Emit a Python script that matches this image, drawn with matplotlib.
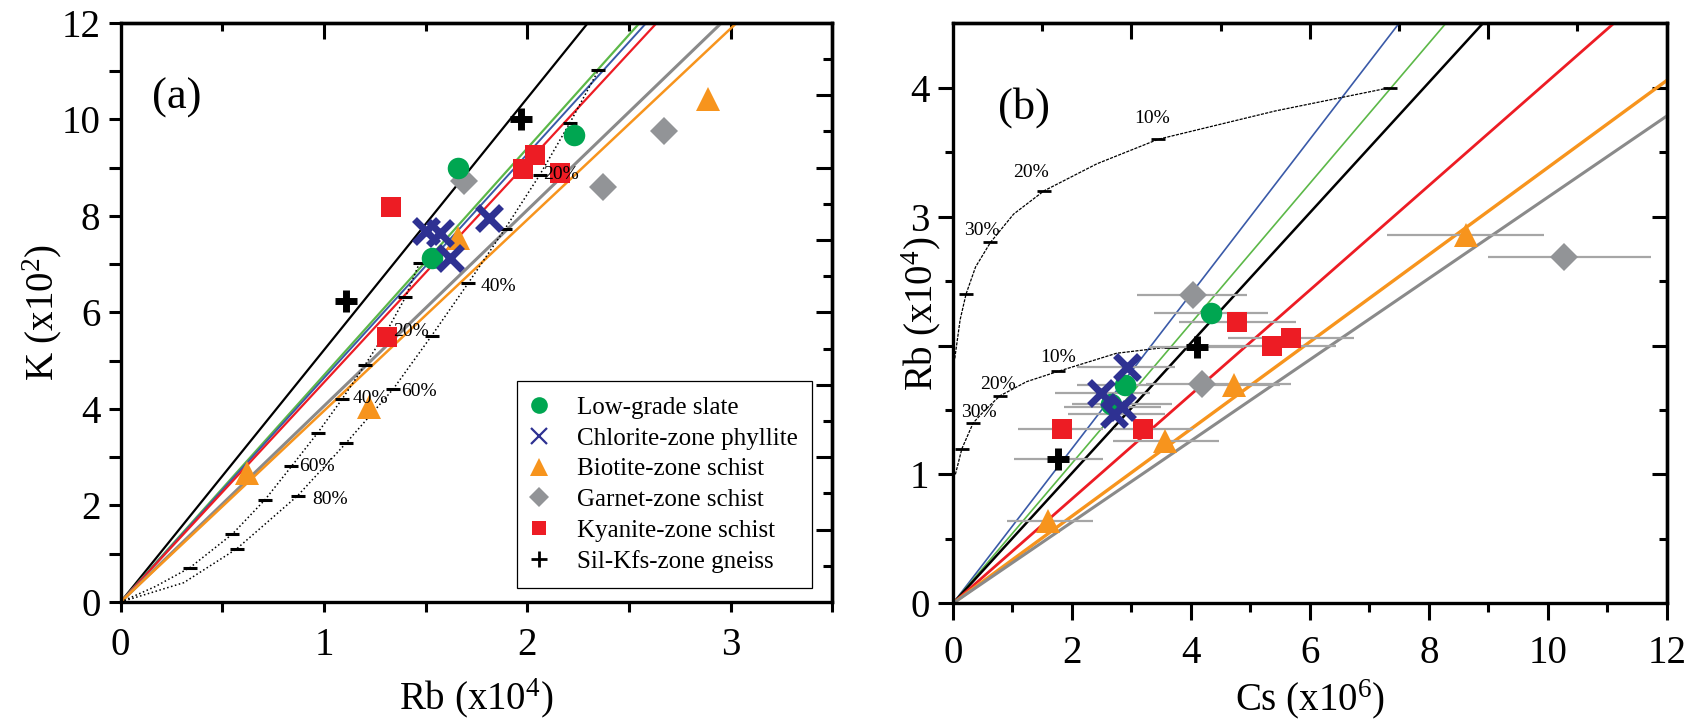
import matplotlib
matplotlib.use("Agg")
import matplotlib.pyplot as plt
import numpy as np
from matplotlib.lines import Line2D
from matplotlib.ticker import NullFormatter

plt.rcParams['font.family'] = ['Liberation Serif', 'DejaVu Serif']
plt.rcParams['mathtext.fontset'] = 'custom'
plt.rcParams['mathtext.rm'] = 'Liberation Serif'
plt.rcParams['mathtext.it'] = 'Liberation Serif:italic'

groups = ['Low-grade slate', 'Chlorite-zone phyllite', 'Biotite-zone schist',
          'Garnet-zone schist', 'Kyanite-zone schist', 'Sil-Kfs-zone gneiss']

# ---- panel (a): Rb (x10^4) vs K (x10^2)
a_slate_rb = [2.23, 1.66, 1.53]
a_slate_k = [9.67, 9.00, 7.13]
a_chl_rb = [1.81, 1.50, 1.57, 1.62]
a_chl_k = [7.96, 7.68, 7.65, 7.13]
a_bt_rb = [1.66, 0.62, 1.22, 2.89]
a_bt_k = [7.55, 2.67, 4.05, 10.41]
a_grt_rb = [1.69, 2.37, 2.67]
a_grt_k = [8.72, 8.60, 9.76]
a_ky_rb = [2.04, 1.98, 2.16, 1.33, 1.31]
a_ky_k = [9.27, 8.96, 8.89, 8.18, 5.50]
a_sil_rb = [1.97, 1.11]
a_sil_k = [10.00, 6.24]

# slopes of the regression lines through the origin (K/Rb)
a_slope_sil = 5.22
a_slope_slate = 4.70
a_slope_chl = 4.64
a_slope_ky = 4.55
a_slope_grt = 4.06
a_slope_bt = 3.96

# melting / mixing curves in (a)
curveA_rb = [0, 0.17, 0.34, 0.55, 0.71, 0.84, 0.97, 1.09, 1.20, 1.31, 1.40, 1.47]
curveA_k = [0, 0.32, 0.71, 1.41, 2.12, 2.81, 3.51, 4.21, 4.90, 5.62, 6.31, 7.03]
curveA_tick_rb = [0.34, 0.55, 0.71, 0.84, 0.97, 1.09, 1.20, 1.31, 1.40, 1.47]
curveA_tick_k = [0.71, 1.41, 2.12, 2.81, 3.51, 4.21, 4.90, 5.62, 6.31, 7.03]
curveB_rb = [0, 0.31, 0.57, 0.87, 1.11, 1.34, 1.53, 1.71, 1.89, 2.06, 2.21, 2.35]
curveB_k = [0, 0.40, 1.10, 2.20, 3.30, 4.41, 5.52, 6.61, 7.73, 8.84, 9.93, 11.02]
curveB_tick_rb = [0.57, 0.87, 1.11, 1.34, 1.53, 1.71, 1.89, 2.06, 2.21, 2.35]
curveB_tick_k = [1.10, 2.20, 3.30, 4.41, 5.52, 6.61, 7.73, 8.84, 9.93, 11.02]
curveA_labels = ['60%', '40%', '20%']
curveA_label_xy = [(0.88, 2.80), (1.14, 4.21), (1.34, 5.61)]
curveB_labels = ['80%', '60%', '40%', '20%']
curveB_label_xy = [(0.94, 2.13), (1.38, 4.36), (1.77, 6.54), (2.08, 8.86)]

# ---- panel (b): Cs (x10^6) vs Rb (x10^4), with Cs ranges
b_slate_cs = [4.33, 2.89, 2.66]
b_slate_rb = [2.25, 1.69, 1.55]
b_slate_lo = [3.38, 2.08, 2.00]
b_slate_hi = [5.29, 3.32, 3.69]
b_chl_cs = [2.93, 2.49, 2.84, 2.70]
b_chl_rb = [1.83, 1.63, 1.52, 1.47]
b_chl_lo = [2.08, 1.72, 1.86, 1.94]
b_chl_hi = [3.74, 3.32, 3.49, 3.57]
b_bt_cs = [8.62, 4.72, 3.57, 1.60]
b_bt_rb = [2.86, 1.69, 1.26, 0.64]
b_bt_lo = [7.30, 4.00, 2.69, 0.90]
b_bt_hi = [9.94, 5.50, 4.47, 2.35]
b_grt_cs = [10.28, 4.03, 4.19]
b_grt_rb = [2.69, 2.39, 1.70]
b_grt_lo = [9.00, 3.10, 3.24]
b_grt_hi = [11.73, 4.95, 5.68]
b_ky_cs = [4.78, 5.37, 5.68, 1.84, 3.20]
b_ky_rb = [2.18, 2.00, 2.06, 1.35, 1.35]
b_ky_lo = [3.80, 4.31, 4.62, 1.10, 2.70]
b_ky_hi = [5.76, 6.44, 6.74, 2.53, 4.03]
b_sil_cs = [4.10, 1.77]
b_sil_rb = [1.99, 1.12]
b_sil_lo = [3.30, 1.03]
b_sil_hi = [4.90, 2.52]

# slopes (Rb/Cs)
b_slope_chl = 0.600
b_slope_slate = 0.543
b_slope_sil = 0.505
b_slope_ky = 0.405
b_slope_bt = 0.338
b_slope_grt = 0.315

upper_cs = [0.03, 0.12, 0.22, 0.38, 0.63, 1.02, 1.53, 2.42, 3.45, 5.42, 7.34]
upper_rb = [1.90, 2.20, 2.40, 2.61, 2.80, 3.02, 3.20, 3.41, 3.60, 3.82, 4.00]
upper_tick_cs = [0.22, 0.63, 1.53, 3.45, 7.34]
upper_tick_rb = [2.40, 2.80, 3.20, 3.60, 4.00]
lower_cs = [0.04, 0.15, 0.34, 0.54, 0.79, 1.24, 1.77, 2.75, 3.66]
lower_rb = [1.00, 1.20, 1.40, 1.50, 1.61, 1.72, 1.80, 1.94, 1.99]
lower_tick_cs = [0.15, 0.34, 0.79, 1.77, 3.66]
lower_tick_rb = [1.20, 1.40, 1.61, 1.80, 1.99]
upper_labels = ['10%', '20%', '30%']
upper_label_xy = [(3.35, 3.76), (1.31, 3.34), (0.49, 2.89)]
lower_labels = ['10%', '20%', '30%']
lower_label_xy = [(1.77, 1.91), (0.75, 1.70), (0.44, 1.48)]

# ---- styles
c_green = '#00a651'
c_blue = '#2e3192'
c_orange = '#f7941d'
c_gray = '#929497'
c_red = '#ed1c24'
c_black = '#000000'
l_green = '#5cb848'
l_blue = '#3a5aa8'
l_gray = '#8a8a8a'
c_err = '#a6a6a6'

sty = {
    'slate': dict(marker='o', color=c_green, ms=15.5, mew=0),
    'chl': dict(marker='x', color=c_blue, ms=17, mew=5),
    'bt': dict(marker='^', color=c_orange, ms=17, mew=0),
    'grt': dict(marker='D', color=c_gray, ms=14, mew=0),
    'ky': dict(marker='s', color=c_red, ms=14, mew=0),
    'sil': dict(marker='+', color=c_black, ms=16, mew=5),
}

fig = plt.figure(figsize=(16.9, 7.19), dpi=100)
axa = fig.add_axes([0.0714, 0.1627, 0.4211, 0.8057])
axb = fig.add_axes([0.5639, 0.1609, 0.4223, 0.8067])

# ================= panel (a)
xa = np.array([0, 3.5])
for s, col, lw in [(a_slope_sil, c_black, 1.6), (a_slope_slate, l_green, 1.6),
                   (a_slope_chl, l_blue, 1.4), (a_slope_ky, c_red, 1.6),
                   (a_slope_grt, l_gray, 2.2), (a_slope_bt, c_orange, 1.8)]:
    axa.plot(xa, s * xa, color=col, lw=lw, zorder=2)

axa.plot(curveA_rb, curveA_k, ls=':', color='k', lw=1.1, zorder=2)
axa.plot(curveB_rb, curveB_k, ls=':', color='k', lw=1.1, zorder=2)
axa.plot(curveA_tick_rb, curveA_tick_k, ls='none', marker='_', ms=10, mew=2.2,
         color='k', zorder=3)
axa.plot(curveB_tick_rb, curveB_tick_k, ls='none', marker='_', ms=10, mew=2.2,
         color='k', zorder=3)
for t, (x, y) in zip(curveA_labels + curveB_labels, curveA_label_xy + curveB_label_xy):
    axa.text(x, y, t, fontsize=14, ha='left', va='center', zorder=6)

for key, xs, ys in [('grt', a_grt_rb, a_grt_k), ('slate', a_slate_rb, a_slate_k),
                    ('bt', a_bt_rb, a_bt_k), ('ky', a_ky_rb, a_ky_k),
                    ('chl', a_chl_rb, a_chl_k), ('sil', a_sil_rb, a_sil_k)]:
    axa.plot(xs, ys, ls='none', zorder=4, **sty[key])

axa.set_xlim(0, 3.5)
axa.set_ylim(0, 12)
axa.text(0.079, 0.87, '(a)', transform=axa.transAxes, fontsize=32,
         ha='center', va='center')

leg_handles = [
    Line2D([], [], ls='none', marker='o', color=c_green, ms=12, mew=0),
    Line2D([], [], ls='none', marker='x', color=c_blue, ms=12, mew=1.6),
    Line2D([], [], ls='none', marker='^', color=c_orange, ms=13, mew=0),
    Line2D([], [], ls='none', marker='D', color=c_gray, ms=10, mew=0),
    Line2D([], [], ls='none', marker='s', color=c_red, ms=10, mew=0),
    Line2D([], [], ls='none', marker='+', color=c_black, ms=12, mew=2),
]
leg = axa.legend(leg_handles, groups, loc='lower right',
                 bbox_to_anchor=(0.972, 0.024), borderaxespad=0, fontsize=18,
                 frameon=True, fancybox=False, edgecolor='k', framealpha=1,
                 borderpad=0.6, labelspacing=0.33, handlelength=0.6,
                 handletextpad=1.2)
leg.get_frame().set_linewidth(0.9)

axa.set_xticks([0, 1, 2, 3])
axa.set_xticks([0.5, 1.5, 2.5, 3.5], minor=True)
axa.set_yticks([0, 2, 4, 6, 8, 10, 12])
axa.set_yticks([1, 3, 5, 7, 9, 11], minor=True)
axa.tick_params(axis='x', which='both', direction='out', length=7.2, width=2.2,
                labelsize=28, pad=11)
axa.tick_params(axis='y', which='both', direction='out', length=8.6, width=2.2,
                labelsize=28, pad=6)
topa = axa.secondary_xaxis('top')
topa.set_xticks([1, 2, 3])
topa.set_xticks([0.5, 1.5, 2.5], minor=True)
topa.xaxis.set_major_formatter(NullFormatter())
topa.tick_params(which='major', direction='in', length=11.5, width=2.2)
topa.tick_params(which='minor', direction='in', length=6, width=2.2)
righta = axa.secondary_yaxis('right')
righta.set_yticks([1.5, 3, 4.5, 6, 7.5, 9, 10.5])
righta.set_yticks([0.75, 2.25, 3.75, 5.25, 6.75, 8.25, 9.75, 11.25], minor=True)
righta.yaxis.set_major_formatter(NullFormatter())
righta.tick_params(which='major', direction='in', length=11.5, width=2.2)
righta.tick_params(which='minor', direction='in', length=6.5, width=2.2)
axa.set_xlabel(r'Rb (x10$^4$)', fontsize=28)
axa.xaxis.set_label_coords(0.5, -0.128)
axa.set_ylabel(r'K (x10$^2$)', fontsize=28)
axa.yaxis.set_label_coords(-0.080, 0.5)

# ================= panel (b)
xb = np.array([0, 12])
for s, col, lw in [(b_slope_chl, l_blue, 1.2), (b_slope_slate, l_green, 1.2),
                   (b_slope_sil, c_black, 1.8), (b_slope_ky, c_red, 2.0),
                   (b_slope_bt, c_orange, 2.4), (b_slope_grt, l_gray, 2.2)]:
    axb.plot(xb, s * xb, color=col, lw=lw, zorder=2)

axb.plot(upper_cs, upper_rb, ls=(0, (2.5, 1)), color='k', lw=0.9, zorder=2)
axb.plot(lower_cs, lower_rb, ls=(0, (2.5, 1)), color='k', lw=0.9, zorder=2)
axb.plot(upper_tick_cs, upper_tick_rb, ls='none', marker='_', ms=10, mew=2,
         color='k', zorder=3)
axb.plot(lower_tick_cs, lower_tick_rb, ls='none', marker='_', ms=10, mew=2,
         color='k', zorder=3)
for t, (x, y) in zip(upper_labels + lower_labels, upper_label_xy + lower_label_xy):
    axb.text(x, y, t, fontsize=14, ha='center', va='center', zorder=6)

b_sets = [('grt', b_grt_cs, b_grt_rb, b_grt_lo, b_grt_hi),
          ('slate', b_slate_cs, b_slate_rb, b_slate_lo, b_slate_hi),
          ('ky', b_ky_cs, b_ky_rb, b_ky_lo, b_ky_hi),
          ('bt', b_bt_cs, b_bt_rb, b_bt_lo, b_bt_hi),
          ('chl', b_chl_cs, b_chl_rb, b_chl_lo, b_chl_hi),
          ('sil', b_sil_cs, b_sil_rb, b_sil_lo, b_sil_hi)]
for key, xs, ys, lo, hi in b_sets:
    xs = np.array(xs)
    axb.errorbar(xs, ys, xerr=[xs - np.array(lo), np.array(hi) - xs], fmt='none',
                 ecolor=c_err, elinewidth=1.6, capsize=0, zorder=3)
for key, xs, ys, lo, hi in b_sets:
    axb.plot(xs, ys, ls='none', zorder=4, **sty[key])

axb.set_xlim(0, 12)
axb.set_ylim(0, 4.5)
axb.text(0.099, 0.855, '(b)', transform=axb.transAxes, fontsize=32,
         ha='center', va='center')

axb.set_xticks([0, 2, 4, 6, 8, 10, 12])
axb.set_xticks([1, 3, 5, 7, 9, 11], minor=True)
# the "2" label is covered by the axis title in the original
axb.set_yticks([0, 1, 2, 3, 4], labels=['0', '1', '', '3', '4'])
axb.set_yticks([0.5, 1.5, 2.5, 3.5], minor=True)
axb.tick_params(axis='x', which='major', direction='out', length=12, width=2.2,
                labelsize=28, pad=11)
axb.tick_params(axis='x', which='minor', direction='out', length=6.5, width=2.2)
axb.tick_params(axis='y', which='major', direction='out', length=11, width=2.2,
                labelsize=28, pad=6)
axb.tick_params(axis='y', which='minor', direction='out', length=6, width=2.2)
topb = axb.secondary_xaxis('top')
topb.set_xticks([3, 6, 9])
topb.set_xticks([1.5, 4.5, 7.5, 10.5], minor=True)
topb.xaxis.set_major_formatter(NullFormatter())
topb.tick_params(which='major', direction='in', length=11.5, width=2.2)
topb.tick_params(which='minor', direction='in', length=6, width=2.2)
rightb = axb.secondary_yaxis('right')
rightb.set_yticks([1, 2, 3, 4])
rightb.set_yticks([0.5, 1.5, 2.5, 3.5], minor=True)
rightb.yaxis.set_major_formatter(NullFormatter())
rightb.tick_params(which='major', direction='in', length=11, width=2.2)
rightb.tick_params(which='minor', direction='in', length=5.5, width=2.2)
axb.set_xlabel(r'Cs (x10$^6$)', fontsize=28)
axb.xaxis.set_label_coords(0.5, -0.128)
axb.set_ylabel(r'Rb (x10$^4$)', fontsize=28)
axb.yaxis.set_label_coords(-0.014, 0.5)

for ax in (axa, axb, topa, righta, topb, rightb):
    for sp in ax.spines.values():
        sp.set_linewidth(2.4)

fig.savefig('out.png', dpi=100)
